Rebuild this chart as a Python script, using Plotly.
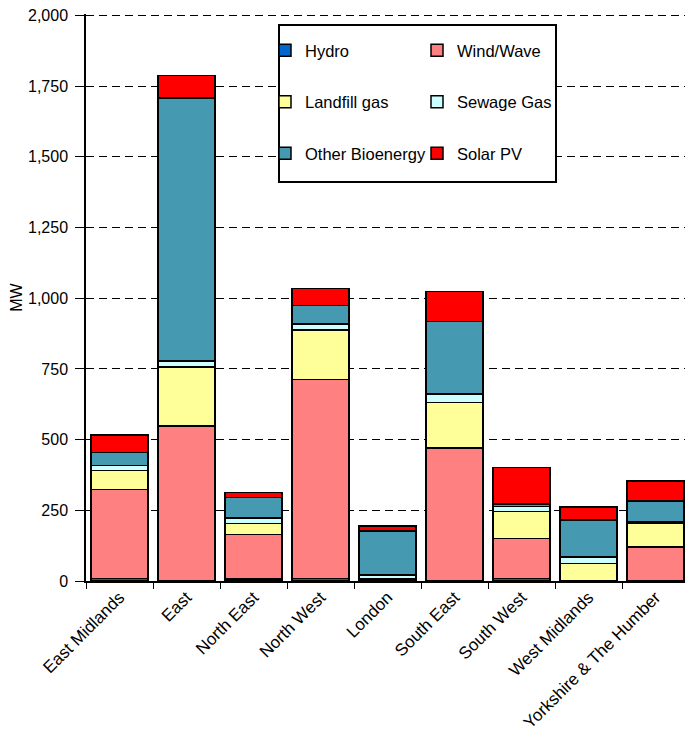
import plotly.graph_objects as go

regions = ["East Midlands", "East", "North East", "North West", "London",
           "South East", "South West", "West Midlands", "Yorkshire & The Humber"]

hydro = [8, 2, 7, 8, 1, 2, 8, 1, 2]
wind_wave = [315, 546, 157, 704, 4, 468, 143, 1, 118]
landfill_gas = [67, 209, 40, 175, 2, 162, 95, 60, 83]
sewage_gas = [18, 21, 18, 21, 15, 30, 17, 23, 6]
other_bioenergy = [46, 930, 73, 67, 155, 255, 10, 130, 74]
solar_pv = [63, 79, 18, 59, 18, 107, 128, 47, 70]

y_ticks = [0, 250, 500, 750, 1000, 1250, 1500, 1750, 2000]

series = [
    ("Hydro", hydro, "#0066CC", "legend"),
    ("Wind/Wave", wind_wave, "#FF8080", "legend2"),
    ("Landfill gas", landfill_gas, "#FFFF99", "legend"),
    ("Sewage Gas", sewage_gas, "#CCFFFF", "legend2"),
    ("Other Bioenergy", other_bioenergy, "#4599B1", "legend"),
    ("Solar PV", solar_pv, "#FF0000", "legend2"),
]

FONT = "Liberation Sans, Arial, sans-serif"

fig = go.Figure()
for name, vals, color, leg in series:
    fig.add_trace(go.Bar(
        name=name, x=regions, y=vals,
        marker=dict(color=color, line=dict(color="black", width=1.5)),
        legend=leg, legendgroup=name,
    ))

# page has an 8px body margin
OFF = 8
W, H = 685, 729
L, R, T, B = 78, 4, 6, 156
pw, ph = W - L - R, H - T - B

def px_x(p):
    return (p - OFF - L) / pw

def px_y(p):
    return (H - B - (p - OFF)) / ph

leg_common = dict(
    yanchor="top", xanchor="left",
    bgcolor="rgba(0,0,0,0)", borderwidth=0,
    font=dict(size=16.5), tracegroupgap=27, traceorder="grouped",
)

fig.update_layout(
    width=W, height=H,
    margin=dict(l=L, r=R, t=T, b=B, autoexpand=False),
    barmode="stack",
    bargap=0.15,
    plot_bgcolor="white",
    paper_bgcolor="white",
    font=dict(family=FONT, size=16, color="black"),
    showlegend=True,
    legend=dict(x=px_x(265), y=px_y(33), **leg_common),
    legend2=dict(x=px_x(417), y=px_y(33), **leg_common),
    xaxis=dict(
        type="category", automargin=False,
        showline=True, linecolor="black", linewidth=1.5,
        ticks="outside", tickson="boundaries", ticklen=6, tickcolor="black",
        tickangle=-45, tickfont=dict(size=17),
        ticklabelstandoff=-2,
        showgrid=False,
    ),
    yaxis=dict(
        range=[0, 2005], automargin=False,
        tickvals=y_ticks,
        tickformat=",d",
        ticklabeloverflow="allow",
        showline=True, linecolor="black", linewidth=1.5,
        ticks="outside", ticklen=9, tickcolor="black",
        ticklabelstandoff=4,
        tickfont=dict(size=16),
        showgrid=True, gridcolor="black", gridwidth=1, griddash="8px,5px",
        zeroline=False,
        title=dict(text="MW", font=dict(size=16), standoff=5),
    ),
    shapes=[dict(
        type="rect", xref="paper", yref="paper",
        x0=px_x(279), x1=px_x(556), y0=px_y(182), y1=px_y(25),
        line=dict(color="black", width=2), fillcolor="white", layer="above",
    )],
)

fig.write_html("out.html")
